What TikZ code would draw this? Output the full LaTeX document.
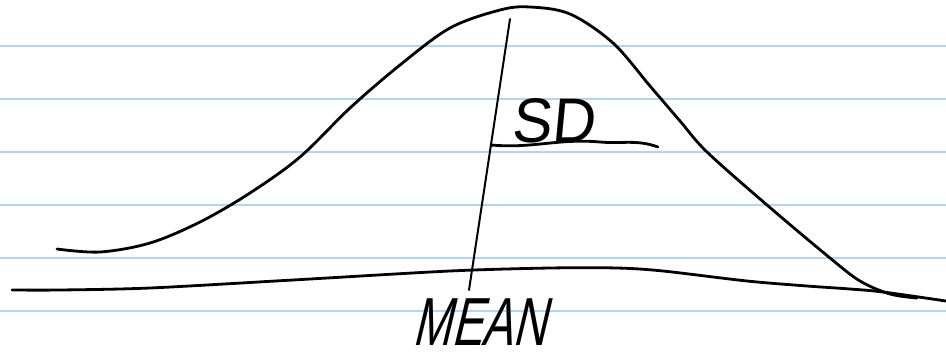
\documentclass[tikz,border=0pt]{standalone}
\usepackage{fontspec}
\setmainfont{Liberation Sans}
\usepackage{xcolor}
\usepackage{tikz}
\usetikzlibrary{positioning}
\definecolor{ruleblue}{RGB}{176,214,245}
\definecolor{ink}{HTML}{000000}
\tikzset{
  ruled/.style={draw=ruleblue, line width=2pt},
  pen/.style={draw=ink, line width=2.8pt, line cap=round, line join=round},
  thinpen/.style={draw=ink, line width=2pt, line cap=round},
  scrawl/.style={font=\fontsize{#1}{#1}\selectfont, inner sep=0pt, text=ink},
}

\begin{document}
\begin{tikzpicture}[x=1pt, y=-1pt]
  \useasboundingbox (0,0) rectangle (946,359);
  \foreach \k in {0,...,5}
    \draw[ruled] (0,{45.5+53.1*\k}) -- (946,{45.5+53.1*\k});

  % bell curve and axis
  \draw[pen] plot[smooth, tension=0.55] coordinates {(57,249) (100,252) (150,243) (200,222) (250,193) (300,157) (350,108) (400,65) (450,28) (500,10) (530,7) (570,14) (613,43) (650,86) (680,121) (707,152) (767,205) (830,258) (860,281) (890,294) (917,298)};
  \draw[pen] plot[smooth, tension=0.5] coordinates {(12,290) (60,290) (150,288) (293,280) (450,271) (550,268) (617,268) (663,271) (747,281) (807,286) (850,289) (883,292) (946,301)};

  \coordinate (top) at (510,19);
  \coordinate (foot) at (469,290);
  \coordinate (sdstart) at (491,145);
  \coordinate (sdend) at (658,147);
  \draw[thinpen] (foot) -- (top);
  \draw[pen] (sdstart) to[out=-5,in=175] (600,142) to[out=-5,in=160] (sdend);

  \node[scrawl=63, xscale=0.95, xslant=0.1] (sd) at (555,121) {SD};
  \node[scrawl=68, xscale=0.68, xslant=0.35] (mean) at (485,322) {MEAN};
\end{tikzpicture}
\end{document}
